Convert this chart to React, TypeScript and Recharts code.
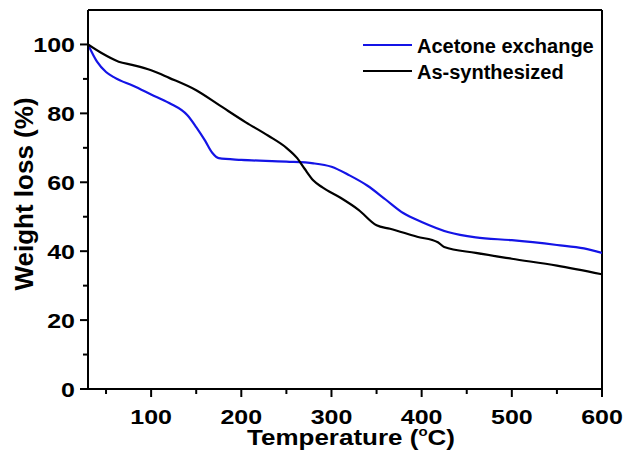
import { LineChart, Line, XAxis, YAxis, ReferenceLine } from 'recharts';

const acetoneTemp = [30, 40, 50, 60, 80, 100, 120, 140, 150, 160, 168, 175, 200, 250, 280, 300, 320, 340, 360, 380, 400, 430, 460, 500, 550, 580, 600];
const acetoneWeight = [100, 95, 92, 90.3, 88, 85.5, 83, 79.5, 76, 72, 68.5, 67, 66.5, 66, 65.5, 64.5, 62, 59, 55, 51, 48.5, 45.5, 44, 43.2, 41.8, 40.8, 39.5];

const synthTemp = [30, 45, 64, 80, 100, 120, 150, 176, 205, 230, 250, 262, 270, 280, 290, 310, 330, 350, 365, 395, 418, 425, 460, 500, 550, 600];
const synthWeight = [100, 97.5, 95, 94, 92.5, 90.3, 86.7, 82.3, 77.4, 73.5, 70, 67, 64, 60.5, 58.5, 55.5, 52, 47.5, 46.5, 44.2, 42.6, 41.2, 39.5, 37.8, 35.8, 33.3];

const xMajor = [100, 200, 300, 400, 500, 600];
const xMinor = [50, 150, 250, 350, 450, 550];
const yMajor = [0, 20, 40, 60, 80, 100];
const yMinor = [10, 30, 50, 70, 90];

const acetoneData = acetoneTemp.map((t, i) => ({ t, w: acetoneWeight[i] }));
const synthData = synthTemp.map((t, i) => ({ t, w: synthWeight[i] }));

const FONT = '"Liberation Sans", Arial, sans-serif';
const BLUE = '#1414e6';

// the source picture's text is a little squashed vertically
function SText({ x, y, size, anchor = 'start', sy = 0.82, children }: any) {
  return (
    <text
      transform={`translate(${x} ${y}) scale(1 ${sy})`}
      textAnchor={anchor}
      fontFamily={FONT}
      fontWeight="bold"
      fontSize={size}
      fill="#000"
    >
      {children}
    </text>
  );
}

function XTick({ x, y, payload }: any) {
  const major = xMajor.includes(payload.value);
  return (
    <g>
      <line x1={x} x2={x} y1={y} y2={y + (major ? 8 : 5)} stroke="#000" strokeWidth={2} />
      {major && (
        <SText x={x} y={y + 35} size={25} anchor="middle">
          {payload.value}
        </SText>
      )}
    </g>
  );
}

function YTick({ x, y, payload }: any) {
  const major = yMajor.includes(payload.value);
  return (
    <g>
      <line x1={x} x2={x - (major ? 8 : 5)} y1={y} y2={y} stroke="#000" strokeWidth={2} />
      {major && (
        <SText x={x - 13} y={y + 7.5} size={25} anchor="end">
          {payload.value}
        </SText>
      )}
    </g>
  );
}

const legendItems = [
  { label: 'Acetone exchange', color: BLUE },
  { label: 'As-synthesized', color: '#000' },
];

export default function App() {
  return (
    <div style={{ position: 'absolute', left: 0, top: 0, width: 629, height: 454, background: '#fff' }}>
      <LineChart width={629} height={454} margin={{ top: 10, right: 27, left: 0, bottom: 0 }}>
        <XAxis
          dataKey="t"
          type="number"
          domain={[30, 600]}
          ticks={[...xMinor, ...xMajor].sort((a, b) => a - b)}
          interval={0}
          height={65}
          tickSize={0}
          tickMargin={0}
          tickLine={false}
          axisLine={{ stroke: '#000', strokeWidth: 2 }}
          tick={<XTick />}
          allowDataOverflow
        />
        <YAxis
          type="number"
          domain={[0, 110]}
          ticks={[...yMinor, ...yMajor].sort((a, b) => a - b)}
          interval={0}
          width={88}
          tickSize={0}
          tickMargin={0}
          tickLine={false}
          axisLine={{ stroke: '#000', strokeWidth: 2 }}
          tick={<YTick />}
          allowDataOverflow
        />
        <ReferenceLine y={110} stroke="#000" strokeWidth={2} />
        <ReferenceLine x={600} stroke="#000" strokeWidth={2} />
        <Line
          data={acetoneData}
          dataKey="w"
          type="monotone"
          stroke={BLUE}
          strokeWidth={2.2}
          dot={false}
          isAnimationActive={false}
          name="Acetone exchange"
        />
        <Line
          data={synthData}
          dataKey="w"
          type="monotone"
          stroke="#000"
          strokeWidth={2.2}
          dot={false}
          isAnimationActive={false}
          name="As-synthesized"
        />
      </LineChart>
      <svg width={629} height={454} style={{ position: 'absolute', left: 0, top: 0, pointerEvents: 'none' }}>
        <SText x={351} y={445} size={26} anchor="middle">
          Temperature (<tspan fontSize={15} dy={-11}>o</tspan>
          <tspan dy={11}>C)</tspan>
        </SText>
        <text
          x={33}
          y={194}
          transform="rotate(-90 33 194)"
          textAnchor="middle"
          fontFamily={FONT}
          fontWeight="bold"
          fontSize={26}
          fill="#000"
        >
          Weight loss (%)
        </text>
        {legendItems.map((it, i) => (
          <g key={it.label}>
            <line x1={363} x2={412} y1={45 + i * 26} y2={45 + i * 26} stroke={it.color} strokeWidth={2.2} />
            <text x={417} y={53 + i * 26} fontFamily={FONT} fontWeight="bold" fontSize={20} fill="#000">
              {it.label}
            </text>
          </g>
        ))}
      </svg>
    </div>
  );
}
